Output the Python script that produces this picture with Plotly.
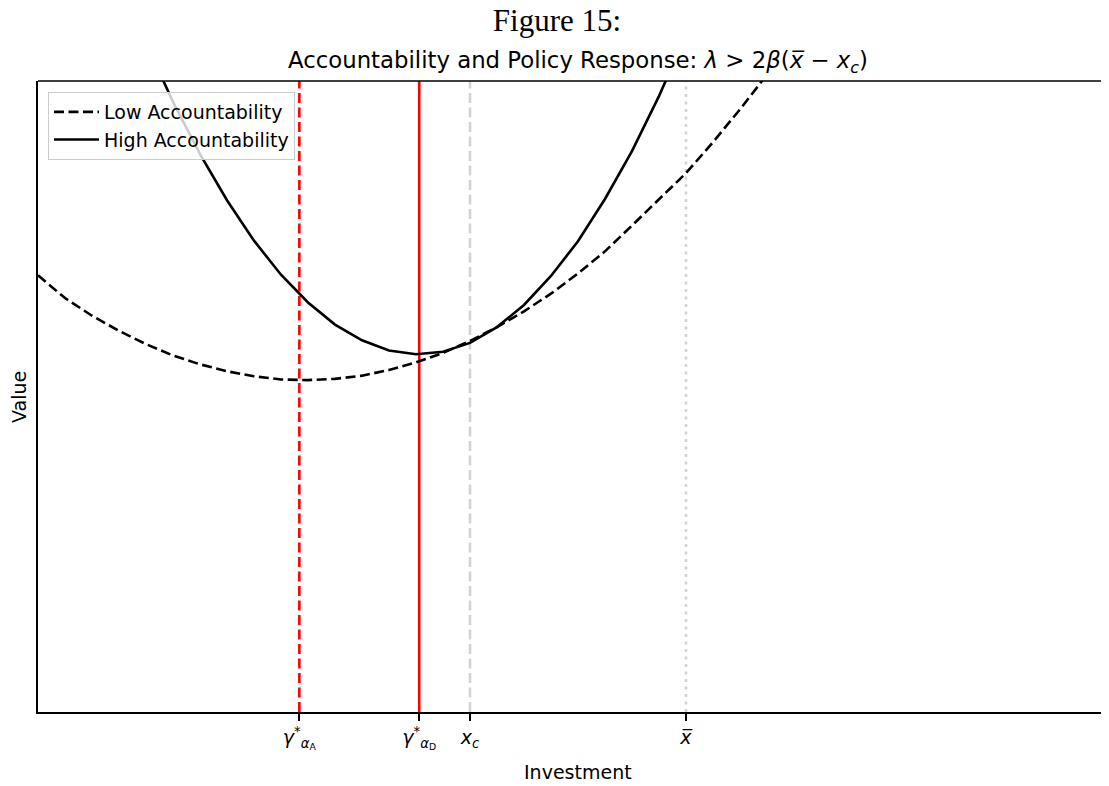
import plotly.graph_objects as go

# ---- data ----
x_low = [0.0, 0.25, 0.5, 0.75, 1.0, 1.25, 1.5, 1.75, 2.0, 2.25, 2.5, 2.75, 3.0, 3.25,
         3.5, 3.75, 4.0, 4.25, 4.5, 4.75, 5.0, 5.25, 5.5, 5.75, 6.0, 6.25, 6.5, 6.75, 7.0]
y_low = [6.92, 6.56, 6.28, 6.04, 5.83, 5.65, 5.51, 5.40, 5.32, 5.27, 5.26, 5.28, 5.33, 5.42,
         5.54, 5.69, 5.88, 6.10, 6.35, 6.63, 6.95, 7.30, 7.71, 8.12, 8.54, 9.03, 9.55, 10.10, 10.68]

x_high = [1.0, 1.25, 1.5, 1.75, 2.0, 2.25, 2.5, 2.75, 3.0, 3.25, 3.5, 3.75, 4.0, 4.25,
          4.5, 4.75, 5.0, 5.25, 5.5, 5.75, 6.0]
y_high = [10.60, 9.67, 8.84, 8.11, 7.47, 6.93, 6.49, 6.14, 5.89, 5.73, 5.67, 5.71, 5.85, 6.10,
          6.45, 6.91, 7.46, 8.13, 8.89, 9.76, 10.73]

gamma_A = 2.42
gamma_D = 3.53
x_c = 4.0
x_bar = 6.0

tick_vals = [gamma_A, gamma_D, x_c, x_bar]
tick_text = [
    "<i>γ</i><sup>*</sup><sub><i>α</i><sub>A</sub></sub>",
    "<i>γ</i><sup>*</sup><sub><i>α</i><sub>D</sub></sub>",
    "<i>x</i><sub><i>c</i></sub>",
    "<i>x\u0305</i>",
]

x_range = [0, 9.917]
y_range = [0, 10]

FONT = "DejaVu Sans"

# page body has an 8px margin; size the figure so the plot area lands where the reference has it
W, H = 1101, 778
ML, MT, MB = 30, 73, 74
PW = W - ML
PH = H - MT - MB

fig = go.Figure()

# vertical reference lines
vlines = [
    (gamma_A, "#ff0000", "10px,4.5px"),
    (gamma_D, "#ff0000", "solid"),
    (x_c, "#d3d3d3", "10px,4.5px"),
    (x_bar, "#d3d3d3", "3px,4.5px"),
]
for xv, col, dash in vlines:
    fig.add_trace(go.Scatter(x=[xv, xv], y=y_range, mode="lines",
                             line=dict(color=col, width=2.6, dash=dash),
                             showlegend=False, hoverinfo="skip"))

fig.add_trace(go.Scatter(x=x_low, y=y_low, mode="lines", name="Low Accountability",
                         line=dict(color="black", width=2.6, dash="10px,4.5px")))
fig.add_trace(go.Scatter(x=x_high, y=y_high, mode="lines", name="High Accountability",
                         line=dict(color="black", width=2.6)))

fig.update_layout(
    width=W, height=H,
    margin=dict(l=ML, r=0, t=MT, b=MB),
    paper_bgcolor="white", plot_bgcolor="white",
    font=dict(family=FONT, size=19, color="black"),
    showlegend=True,
    legend=dict(x=10 / PW, y=1 - 11 / PH, xanchor="left", yanchor="top",
                bgcolor="rgba(255,255,255,0.8)", bordercolor="#cccccc", borderwidth=1,
                font=dict(family=FONT, size=19), tracegroupgap=0, itemwidth=45),
    title=dict(text="Figure 15:", x=(557 - 8) / W, y=1 - 12 / H, xanchor="center", yanchor="middle",
               font=dict(family="Liberation Serif", size=31, color="black")),
)

fig.update_xaxes(range=x_range, showgrid=False, zeroline=False, showline=True,
                 linecolor="black", linewidth=1.5, mirror=False,
                 tickmode="array", tickvals=tick_vals, ticktext=tick_text,
                 ticks="outside", ticklen=7, tickwidth=1.5, tickcolor="black",
                 tickfont=dict(family=FONT, size=19))
fig.update_yaxes(range=y_range, showgrid=False, zeroline=False, showline=True,
                 linecolor="black", linewidth=1.5, mirror=False,
                 showticklabels=False, ticks="")

# top spine
fig.add_shape(type="line", xref="paper", yref="paper", x0=0, x1=1, y0=1, y1=1,
              line=dict(color="black", width=1.5))

# subtitle and axis titles
fig.add_annotation(text="Accountability and Policy Response: <i>λ</i> > 2<i>β</i>(<i>x\u0305</i> − <i>x</i><sub><i>c</i></sub>)",
                   xref="paper", yref="paper", x=(578 - 38) / PW, y=1 + 19 / PH,
                   xanchor="center", yanchor="middle", showarrow=False,
                   font=dict(family=FONT, size=22.8))
fig.add_annotation(text="Investment", xref="paper", yref="paper",
                   x=(578 - 38) / PW, y=-(772 - 712) / PH, xanchor="center", yanchor="middle",
                   showarrow=False, font=dict(family=FONT, size=19))
fig.add_annotation(text="Value", xref="paper", yref="paper",
                   x=-(38 - 19) / PW, y=(712 - 397) / PH, xanchor="center", yanchor="middle",
                   textangle=-90, showarrow=False, font=dict(family=FONT, size=19))

fig.write_html("out.html")
